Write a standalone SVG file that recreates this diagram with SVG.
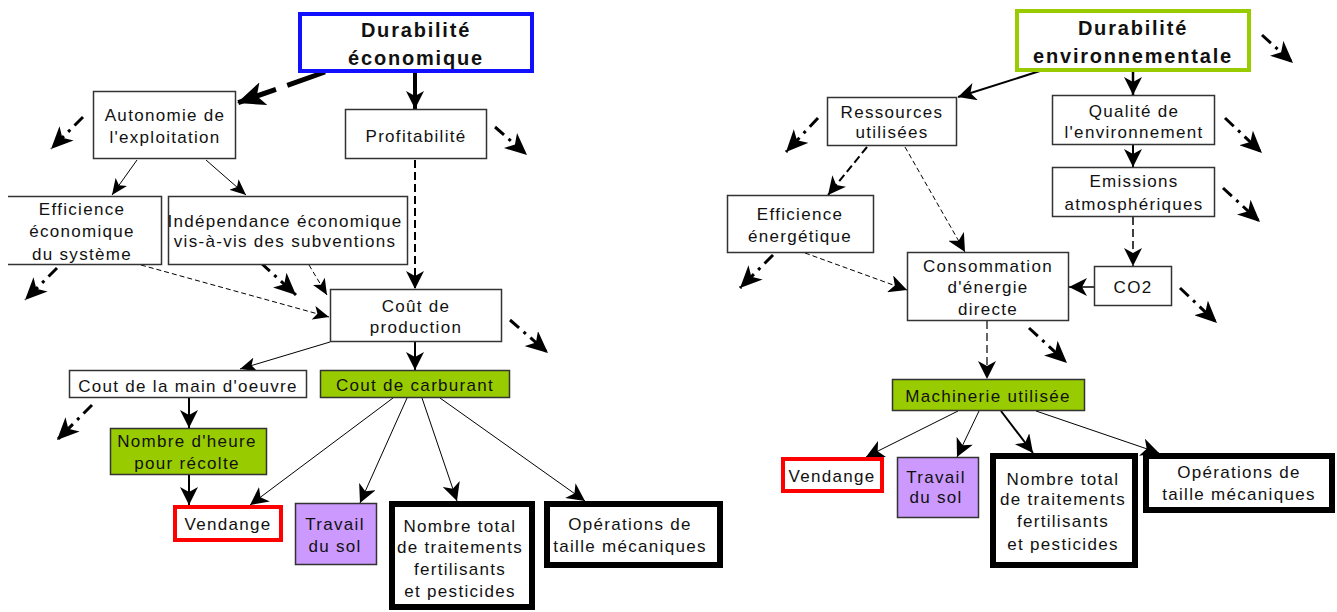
<svg xmlns="http://www.w3.org/2000/svg" width="1337" height="612" viewBox="0 0 1337 612">
<style>
.box{fill:#fff;stroke:#333;stroke-width:1.5}
.green{fill:#99cc00;stroke:#333;stroke-width:1.5}
.purple{fill:#cc99ff;stroke:#333;stroke-width:1.5}
.red{fill:#fff;stroke:#ff0000;stroke-width:4}
.heavy{fill:#fff;stroke:#000;stroke-width:6}
text{font-family:"Liberation Sans",Arial,sans-serif;font-size:17px;letter-spacing:1.3px;text-anchor:middle;fill:#111}
.title{font-weight:bold;font-size:20px;letter-spacing:1.8px}
.c{fill:none;stroke:#000}
.thin{stroke-width:1}
.med{stroke-width:2}
.dd{stroke-width:3;stroke-dasharray:12 6 3 6}
.dash{stroke-dasharray:8 4}
.fdash{stroke-dasharray:5 3}
</style>
<defs>
<marker id="aS" markerUnits="userSpaceOnUse" viewBox="0 0 16 14" markerWidth="16" markerHeight="14" refX="16" refY="7" orient="auto"><path d="M0,0 L16,7 L0,14 L4,7 z" fill="#000"/></marker>
<marker id="aM" markerUnits="userSpaceOnUse" viewBox="0 0 18 18" markerWidth="18" markerHeight="18" refX="18" refY="9" orient="auto"><path d="M0,0 L18,9 L0,18 L5,9 z" fill="#000"/></marker>
<marker id="aL" markerUnits="userSpaceOnUse" viewBox="0 0 22 20" markerWidth="22" markerHeight="20" refX="22" refY="10" orient="auto"><path d="M0,0 L22,10 L0,20 L6,10 z" fill="#000"/></marker>
<marker id="aXL" markerUnits="userSpaceOnUse" viewBox="0 0 28 24" markerWidth="28" markerHeight="24" refX="28" refY="12" orient="auto"><path d="M0,0 L28,12 L0,24 L7,12 z" fill="#000"/></marker>
</defs>

<g id="connectors">
<!-- left diagram -->
<path class="c" d="M325,72 L237,103" stroke-width="5" stroke-dasharray="40 12" marker-end="url(#aXL)"/>
<path class="c" d="M415,73 L415,109" stroke-width="4" marker-end="url(#aM)"/>
<path class="c thin" d="M137,160 L112,195" marker-end="url(#aS)"/>
<path class="c thin" d="M206,160 L246,195" marker-end="url(#aS)"/>
<path class="c med dash" d="M415,160 L415,289" marker-end="url(#aM)"/>
<path class="c thin fdash" d="M309,265 L327,295" marker-end="url(#aS)"/>
<path class="c thin fdash" d="M141,265 L329,317" marker-end="url(#aS)"/>
<path class="c thin" d="M330,342 L240,369" marker-end="url(#aS)"/>
<path class="c med" d="M415,342 L415,370" marker-end="url(#aM)"/>
<path class="c med" d="M189,398 L189,428" marker-end="url(#aM)"/>
<path class="c med" d="M189,475 L189,505" marker-end="url(#aM)"/>
<path class="c thin" d="M393,398 L250,505" marker-end="url(#aM)"/>
<path class="c thin" d="M407,398 L360,503" marker-end="url(#aM)"/>
<path class="c thin" d="M422,398 L457,501" marker-end="url(#aM)"/>
<path class="c thin" d="M440,398 L585,501" marker-end="url(#aM)"/>
<path class="c dd" d="M83,117 L51,149" marker-end="url(#aL)"/>
<path class="c dd" d="M495,127 L527,155" marker-end="url(#aL)"/>
<path class="c dd" d="M57,268 L25,300" marker-end="url(#aL)"/>
<path class="c dd" d="M261,263 L296,295" marker-end="url(#aL)"/>
<path class="c dd" d="M510,320 L548,353" marker-end="url(#aL)"/>
<path class="c dd" d="M92,405 L57,440" marker-end="url(#aL)"/>
<!-- right diagram -->
<path class="c med" d="M1043,70 L958,97" marker-end="url(#aM)"/>
<path class="c" d="M1133,72 L1133,95" stroke-width="2.5" marker-end="url(#aM)"/>
<path class="c med" d="M1133,145 L1133,167" marker-end="url(#aM)"/>
<path class="c dash" d="M1133,217 L1133,266" stroke-width="1.5" marker-end="url(#aM)"/>
<path class="c" d="M1094,287 L1069,287" stroke-width="1.5" marker-end="url(#aM)"/>
<path class="c med dash" d="M867,147 L828,195" marker-end="url(#aM)"/>
<path class="c thin fdash" d="M905,147 L965,252" marker-end="url(#aM)"/>
<path class="c thin fdash" d="M805,253 L907,290" marker-end="url(#aM)"/>
<path class="c dash" d="M987,321 L987,379" stroke-width="1.2" marker-end="url(#aM)"/>
<path class="c thin" d="M958,411 L866,457" marker-end="url(#aM)"/>
<path class="c thin" d="M979,411 L957,457" marker-end="url(#aM)"/>
<path class="c med" d="M1001,411 L1033,453" marker-end="url(#aM)"/>
<path class="c thin" d="M1036,411 L1159,453" marker-end="url(#aM)"/>
<path class="c dd" d="M1262,35 L1293,63" marker-end="url(#aL)"/>
<path class="c dd" d="M1225,118 L1262,153" marker-end="url(#aL)"/>
<path class="c dd" d="M1223,188 L1260,222" marker-end="url(#aL)"/>
<path class="c dd" d="M1180,288 L1217,323" marker-end="url(#aL)"/>
<path class="c dd" d="M818,118 L786,152" marker-end="url(#aL)"/>
<path class="c dd" d="M773,255 L740,288" marker-end="url(#aL)"/>
<path class="c dd" d="M1029,328 L1067,363" marker-end="url(#aL)"/>
</g>

<!-- Left diagram nodes -->
<g id="n-durabilite-eco">
<rect x="300" y="14" width="232" height="57" fill="#fff" stroke="#1010ff" stroke-width="4"/>
<text class="title" x="416" y="37">Durabilité</text>
<text class="title" x="416" y="65">économique</text>
</g>
<g id="n-autonomie">
<rect class="box" x="93.5" y="91.5" width="142" height="67"/>
<text x="165" y="121">Autonomie de</text>
<text x="165" y="143">l'exploitation</text>
</g>
<g id="n-profitabilite">
<rect class="box" x="345.5" y="109.5" width="141" height="49"/>
<text x="416" y="142">Profitabilité</text>
</g>
<g id="n-efficience-eco">
<path class="box" d="M8,196.5 H161.5 V264.5 H8"/>
<text x="82" y="215">Efficience</text>
<text x="82" y="237">économique</text>
<text x="82" y="260">du système</text>
</g>
<g id="n-independance">
<rect class="box" x="168.5" y="196.5" width="239" height="68"/>
<text x="285" y="227">Indépendance économique</text>
<text x="285" y="247">vis-à-vis des subventions</text>
</g>
<g id="n-cout-production">
<rect class="box" x="330.5" y="289.5" width="171" height="52"/>
<text x="416" y="312">Coût de</text>
<text x="416" y="333">production</text>
</g>
<g id="n-main-oeuvre">
<rect class="box" x="69.5" y="370.5" width="237" height="27"/>
<text x="188" y="392">Cout de la main d'oeuvre</text>
</g>
<g id="n-carburant">
<rect class="green" x="320.5" y="370.5" width="189" height="27"/>
<text x="415" y="391">Cout de carburant</text>
</g>
<g id="n-heure-recolte">
<rect class="green" x="110.5" y="428.5" width="156" height="46"/>
<text x="187" y="447">Nombre d'heure</text>
<text x="187" y="469">pour récolte</text>
</g>
<g id="n-vendange-l">
<rect class="red" x="175" y="507" width="106" height="33"/>
<text x="228" y="530">Vendange</text>
</g>
<g id="n-travail-l">
<rect class="purple" x="295.5" y="503.5" width="81" height="61"/>
<text x="335" y="530">Travail</text>
<text x="335" y="552">du sol</text>
</g>
<g id="n-traitements-l">
<rect class="heavy" x="392" y="504" width="140" height="103"/>
<text x="460" y="532">Nombre total</text>
<text x="460" y="553">de traitements</text>
<text x="460" y="575">fertilisants</text>
<text x="460" y="597">et pesticides</text>
</g>
<g id="n-taille-l">
<rect class="heavy" x="547" y="504" width="173" height="61"/>
<text x="630" y="530">Opérations de</text>
<text x="630" y="552">taille mécaniques</text>
</g>

<!-- Right diagram nodes -->
<g id="n-durabilite-env">
<rect x="1017" y="11" width="232" height="59" fill="#fff" stroke="#99cc00" stroke-width="4"/>
<text class="title" x="1133" y="35">Durabilité</text>
<text class="title" x="1133" y="63">environnementale</text>
</g>
<g id="n-ressources">
<rect class="box" x="827.5" y="97.5" width="129" height="48"/>
<text x="892" y="118">Ressources</text>
<text x="892" y="138">utilisées</text>
</g>
<g id="n-qualite">
<rect class="box" x="1052.5" y="95.5" width="162" height="49"/>
<text x="1134" y="117">Qualité de</text>
<text x="1134" y="138">l'environnement</text>
</g>
<g id="n-emissions">
<rect class="box" x="1052.5" y="167.5" width="162" height="49"/>
<text x="1134" y="187">Emissions</text>
<text x="1134" y="210">atmosphériques</text>
</g>
<g id="n-efficience-energ">
<rect class="box" x="727.5" y="195.5" width="146" height="57"/>
<text x="800" y="220">Efficience</text>
<text x="800" y="242">énergétique</text>
</g>
<g id="n-consommation">
<rect class="box" x="907.5" y="252.5" width="161" height="68"/>
<text x="988" y="272">Consommation</text>
<text x="988" y="293">d'énergie</text>
<text x="988" y="315">directe</text>
</g>
<g id="n-co2">
<rect class="box" x="1094.5" y="266.5" width="77" height="39"/>
<text x="1133" y="293">CO2</text>
</g>
<g id="n-machinerie">
<rect class="green" x="892.5" y="379.5" width="192" height="31"/>
<text x="988" y="402">Machinerie utilisée</text>
</g>
<g id="n-vendange-r">
<rect class="red" x="783" y="459" width="99" height="32"/>
<text x="832" y="482">Vendange</text>
</g>
<g id="n-travail-r">
<rect class="purple" x="897.5" y="457.5" width="81" height="60"/>
<text x="936" y="483">Travail</text>
<text x="936" y="503">du sol</text>
</g>
<g id="n-traitements-r">
<rect class="heavy" x="993" y="456" width="142" height="109"/>
<text x="1063" y="485">Nombre total</text>
<text x="1063" y="505">de traitements</text>
<text x="1063" y="527">fertilisants</text>
<text x="1063" y="550">et pesticides</text>
</g>
<g id="n-taille-r">
<rect class="heavy" x="1146" y="456" width="186" height="54"/>
<text x="1239" y="478">Opérations de</text>
<text x="1239" y="500">taille mécaniques</text>
</g>
</svg>
